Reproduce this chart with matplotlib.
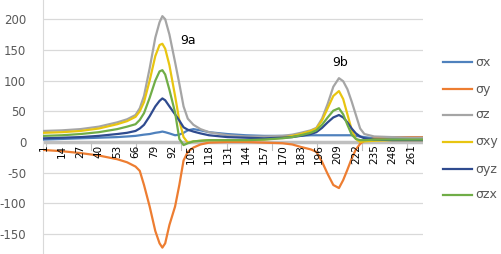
import matplotlib

matplotlib.use("Agg")
import matplotlib.pyplot as plt
from matplotlib.lines import Line2D
from matplotlib.transforms import blended_transform_factory

# sample index (Excel category number) and values
idx = [1, 14, 27, 40, 53, 60, 66, 69, 72, 76, 80, 83, 85, 87, 90, 94, 97, 100,
       103, 107, 112, 118, 131, 144, 157, 170, 177, 183, 190, 194, 198, 202,
       206, 210, 213, 216, 219, 222, 225, 228, 235, 248, 261, 269]

sx = [4, 5, 6, 7, 8, 9, 10, 11, 12, 13, 15, 16, 17, 16, 14, 11, 12, 15,
      19, 21, 19, 16, 13, 11, 10, 10, 10, 10, 11, 11, 11, 11,
      11, 11, 11, 11, 11, 10, 9, 8, 6, 5, 5, 5]
sy = [-13, -15, -18, -22, -28, -33, -40, -47, -70, -105, -145, -165, -172, -165, -135, -105, -70, -30,
      -16, -9, -4, -1, 0, 0, -1, -2, -4, -8, -12, -16, -32, -52,
      -70, -75, -62, -45, -27, -12, -3, 2, 6, 8, 8, 8]
sz = [18, 19, 21, 25, 32, 37, 44, 55, 75, 120, 170, 195, 205, 200, 175, 130, 95, 58,
      38, 28, 21, 16, 11, 9, 9, 10, 12, 15, 19, 23, 38, 62,
      90, 104, 99, 86, 66, 44, 22, 13, 9, 8, 7, 7]
sxy = [15, 16, 18, 22, 29, 34, 41, 50, 65, 100, 140, 158, 160, 152, 125, 75, 35, 8,
       -1, 1, 2, 3, 3, 3, 4, 7, 10, 13, 18, 22, 35, 55,
       75, 83, 70, 45, 20, 5, 0, 1, 2, 3, 3, 3]
syz = [6, 7, 8, 10, 13, 15, 18, 22, 28, 42, 58, 67, 71, 68, 58, 45, 35, 24,
       20, 17, 14, 11, 8, 7, 6, 7, 8, 10, 13, 16, 23, 32,
       40, 44, 40, 32, 22, 14, 9, 6, 4, 3, 3, 3]
szx = [10, 11, 13, 16, 21, 25, 29, 36, 47, 72, 100, 115, 117, 110, 85, 48, 5, -5,
       -2, 1, 2, 3, 3, 3, 4, 6, 8, 11, 15, 19, 28, 40,
       51, 55, 45, 28, 12, 5, 3, 3, 4, 4, 4, 4]

series_names = ["σx", "σy", "σz", "σxy", "σyz", "σzx"]
series_values = [sx, sy, sz, sxy, syz, szx]
series_colors = ["#4F81BD", "#ED7D31", "#A5A5A5", "#E8C511", "#2F4B8F", "#70AD47"]

n_categories = 269
label_cats = list(range(1, 262, 13))
y_ticks = [-150, -100, -50, 0, 50, 100, 150, 200]

TEXT = "#595959"
GRID = "#D9D9D9"


def main():
    fig = plt.figure(figsize=(5.01, 2.54), dpi=100)
    ax = fig.add_axes([43 / 501, 0, 380 / 501, 1])
    ax.set_xlim(0.5, n_categories + 0.5)
    ax.set_ylim(-182.4, 231.3)

    for v in y_ticks:
        if v != 0:
            ax.axhline(v, color=GRID, lw=0.9, zorder=0)
    ax.axhline(0, color="#BFBFBF", lw=2.5, zorder=1)

    # small tick marks on the category axis
    for c in range(2, n_categories, 32):
        ax.plot([c + 0.5, c + 0.5], [0, -13], color="#BFBFBF", lw=0.8, zorder=1)

    for name, values, color in zip(series_names, series_values, series_colors):
        ax.plot(idx, values, color=color, lw=1.6, zorder=3, solid_joinstyle="round")

    ax.set_xticks([])
    ax.set_yticks(y_ticks)
    ax.set_yticklabels([str(v) for v in y_ticks], fontsize=8.5, color=TEXT)
    ax.tick_params(axis="y", length=0, pad=12)
    for side in ["top", "right", "bottom"]:
        ax.spines[side].set_visible(False)
    ax.spines["left"].set_color("#D9D9D9")

    trans = blended_transform_factory(ax.transData, ax.transData)
    for c in label_cats:
        ax.text(c, -4, str(c), rotation=90, ha="center", va="top",
                fontsize=7.5, color="black", transform=trans)

    ax.text(103, 166, "9a", fontsize=9, color="black", ha="center", va="center")
    ax.text(211, 130, "9b", fontsize=9, color="black", ha="center", va="center")

    legend_y = [62, 89, 115, 142, 169, 195]
    for name, color, y in zip(series_names, series_colors, legend_y):
        fy = 1 - y / 254
        fig.add_artist(Line2D([443 / 501, 472 / 501], [fy, fy], color=color, lw=1.6))
        fig.text(475 / 501, fy, name, fontsize=9, color=TEXT, va="center", ha="left")

    fig.savefig("out.png", dpi=100)


if __name__ == "__main__":
    main()
